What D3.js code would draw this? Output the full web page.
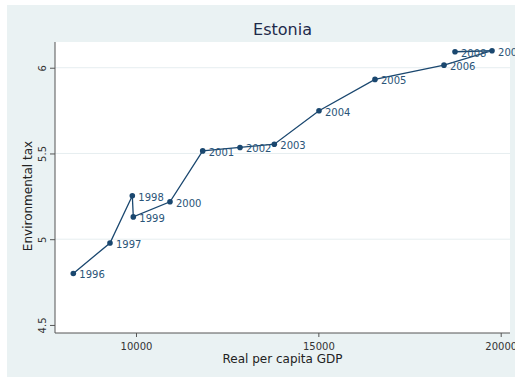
<!DOCTYPE html>
<html>
<head>
<meta charset="utf-8">
<script src="https://cdn.jsdelivr.net/npm/d3@7"></script>
<style>
  html, body { margin: 0; padding: 0; background: #ffffff; }
  svg { display: block; }
  text { font-family: "DejaVu Sans", sans-serif; }
</style>
</head>
<body>
<div id="chart"></div>
<script>
// Estonia: environmental tax against real per capita GDP, one point per year
const years = [1996, 1997, 1998, 1999, 2000, 2001, 2002, 2003, 2004, 2005, 2006, 2007, 2008];
const gdp   = [8281, 9287, 9899, 9926, 10932, 11829, 12852, 13792, 15018, 16553, 18445, 19762, 18747];
const envTax = [4.80, 4.978, 5.253, 5.130, 5.218, 5.515, 5.535, 5.554, 5.749, 5.932, 6.015, 6.099, 6.093];
const xTicks = [10000, 15000, 20000];
const yTicks = [4.5, 5, 5.5, 6];

const W = 515, H = 379;
const plot = { left: 55, right: 510, top: 42, bottom: 333 };

const svg = d3.select("#chart").append("svg")
  .attr("width", W).attr("height", H);

// outer graph region
svg.append("rect")
  .attr("x", 7).attr("y", 5)
  .attr("width", W).attr("height", 372)
  .attr("fill", "#eaf2f3");

// plot region
svg.append("rect")
  .attr("x", plot.left).attr("y", plot.top)
  .attr("width", plot.right - plot.left).attr("height", plot.bottom - plot.top)
  .attr("fill", "#ffffff");

const x = d3.scaleLinear().domain([7779, 20255]).range([plot.left, plot.right]);
const y = d3.scaleLinear().domain([4.453, 6.150]).range([plot.bottom, plot.top]);

// horizontal grid lines
svg.append("g").selectAll("line")
  .data(yTicks.filter(t => t > 4.5))
  .join("line")
  .attr("x1", plot.left).attr("x2", plot.right)
  .attr("y1", d => y(d)).attr("y2", d => y(d))
  .attr("stroke", "#e6eef0").attr("stroke-width", 1);

// y axis with vertical tick labels
const yAxis = svg.append("g")
  .attr("transform", `translate(${plot.left},0)`)
  .call(d3.axisLeft(y).tickValues(yTicks).tickSize(5).tickSizeOuter(0)
    .tickFormat(d3.format("")));
yAxis.select(".domain").attr("stroke", "#555555")
  .attr("d", `M0,${plot.top}V${plot.bottom}`);
yAxis.selectAll(".tick line").attr("stroke", "#555555");
yAxis.selectAll(".tick text")
  .attr("fill", "#333333").attr("font-size", 10)
  .attr("text-anchor", "middle")
  .attr("transform", "rotate(-90)")
  .attr("x", 0).attr("y", -9).attr("dy", "0em");

// x axis
const xAxis = svg.append("g")
  .attr("transform", `translate(0,${plot.bottom})`)
  .call(d3.axisBottom(x).tickValues(xTicks).tickSize(4).tickSizeOuter(0).tickPadding(6)
    .tickFormat(d3.format("")));
xAxis.select(".domain").attr("stroke", "#555555")
  .attr("d", `M${plot.left},0H${plot.right}`);
xAxis.selectAll(".tick line").attr("stroke", "#555555");
xAxis.selectAll(".tick text").attr("fill", "#333333").attr("font-size", 10);

// connecting line in year order
const pts = years.map((yr, i) => ({ year: yr, gdp: gdp[i], tax: envTax[i] }));
svg.append("path")
  .datum(pts)
  .attr("fill", "none")
  .attr("stroke", "#1a476f")
  .attr("stroke-width", 1.3)
  .attr("d", d3.line().x(d => x(d.gdp)).y(d => y(d.tax)));

// markers
svg.append("g").selectAll("circle")
  .data(pts)
  .join("circle")
  .attr("cx", d => x(d.gdp)).attr("cy", d => y(d.tax))
  .attr("r", 2.8)
  .attr("fill", "#1a476f");

// year labels to the right of each marker
svg.append("g").selectAll("text")
  .data(pts)
  .join("text")
  .attr("x", d => x(d.gdp) + 6)
  .attr("y", d => y(d.tax) + 5)
  .attr("font-size", 10)
  .attr("fill", "#2a5478")
  .text(d => d.year);

// titles
svg.append("text")
  .attr("x", (plot.left + plot.right) / 2).attr("y", 35)
  .attr("text-anchor", "middle")
  .attr("font-size", 16)
  .attr("fill", "#1e2a4a")
  .text("Estonia");

svg.append("text")
  .attr("x", (plot.left + plot.right) / 2).attr("y", 363)
  .attr("text-anchor", "middle")
  .attr("font-size", 12)
  .attr("fill", "#222222")
  .text("Real per capita GDP");

svg.append("text")
  .attr("transform", "translate(32,196) rotate(-90)")
  .attr("text-anchor", "middle")
  .attr("font-size", 12)
  .attr("fill", "#222222")
  .text("Environmental tax");
</script>
</body>
</html>
